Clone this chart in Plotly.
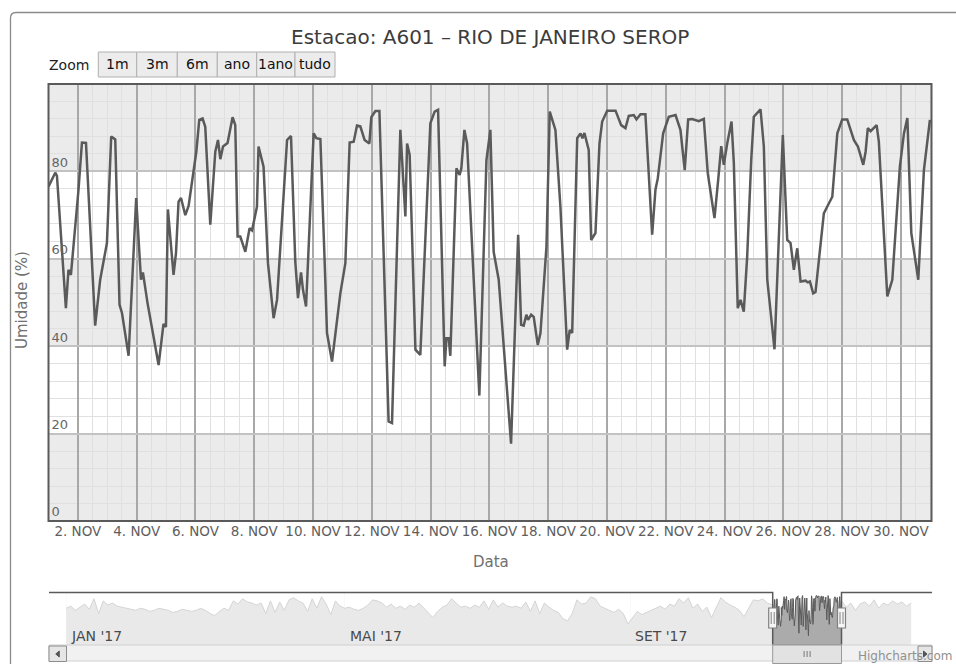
import pandas as pd
import plotly.graph_objects as go

# ---------------- data ----------------
TITLE = "Estacao: A601 – RIO DE JANEIRO SEROP"
Y_TITLE = "Umidade (%)"
X_TITLE = "Data"

# main series: hours since 2017-11-01 00:00 and relative humidity (%)
hours = [0, 5.5, 6.9, 14.2, 16.3, 18.3, 24.5, 27.3, 30.6, 38.1, 42.2, 47.7, 51.2, 54.5, 58.0, 60.0,
         65.4, 71.6, 75.5, 77.1, 80.9, 89.9, 93.9, 95.9, 97.5, 102.1, 104.1, 106.2, 108.2, 111.7, 114.4,
         118.5, 120.7, 123.1, 125.8, 128.0, 132.1, 136.2, 138.4, 140.3, 142.5, 146.2, 150.3, 152.5, 154.4,
         156.6, 160.7, 164.2, 166.2, 170.2, 171.5, 175.6, 179.2, 183.8, 186.6, 194.8, 198.0, 201.5, 203.7,
         206.2, 207.8, 210.3, 213.8, 216.5, 218.7, 222.0, 226.0, 227.4, 231.5, 238.3, 242.4, 245.9, 249.2,
         251.9, 254.6, 258.1, 262.0, 263.6, 266.9, 270.2, 277.7, 280.5, 287.3, 291.4, 292.8, 294.9, 299.6,
         303.6, 311.8, 315.3, 318.1, 323.5, 324.9, 326.8, 328.1, 333.1, 335.7, 337.1, 339.6, 341.8, 351.8,
         357.6, 360.8, 363.5, 367.6, 377.7, 383.5, 385.9, 388.0, 390.2, 391.6, 394.1, 396.2, 399.5, 401.7,
         406.6, 409.3, 413.9, 418.0, 423.5, 425.6, 427.6, 431.7, 434.4, 436.0, 437.6, 441.1, 443.1, 446.6,
         449.9, 452.1, 456.2, 463.0, 467.6, 471.1, 473.8, 477.9, 480.1, 483.4, 487.4, 492.9, 495.6, 497.5,
         501.9, 506.5, 512.0, 516.0, 519.5, 522.3, 525.6, 531.0, 535.1, 538.3, 543.8, 546.8, 549.3, 551.4,
         554.2, 557.7, 559.6, 562.8, 565.1, 567.7, 570.5, 573.8, 575.9, 581.4, 584.1, 586.9, 592.8, 599.6,
         603.2, 605.9, 608.6, 611.4, 614.1, 618.2, 620.0, 621.7, 624.4, 626.3, 633.1, 635.8, 640.0, 644.1,
         648.1, 652.2, 657.6, 660.9, 663.1, 665.3, 667.2, 669.0, 671.3, 676.2, 678.0, 684.9, 689.0, 695.2,
         698.5, 701.3, 704.5, 710.2, 714.8, 719.7]
umid = [76.5, 79.7, 79.0, 48.7, 57.5, 56.3, 75.8, 86.6, 86.5, 44.7, 55.2, 63.6, 88.0, 87.3, 49.5, 47.6,
        37.8, 73.9, 55.2, 56.9, 49.8, 35.7, 45.1, 44.4, 71.3, 56.3, 61.3, 73.1, 73.9, 70.0, 72.1,
        79.9, 84.5, 91.8, 92.1, 90.2, 67.8, 84.5, 87.2, 82.8, 85.7, 86.5, 92.4, 90.6, 65.1,
        65.1, 61.6, 67.0, 66.5, 71.9, 85.7, 81.1, 59.0, 46.4, 50.6, 87.2, 88.1, 59.4, 51.0,
        56.9, 52.9, 49.1, 71.9, 88.7, 87.6, 87.4, 55.2, 43.0, 36.5, 52.1, 59.0, 86.6, 86.8,
        90.5, 90.3, 87.2, 86.4, 92.4, 93.8, 93.8, 22.8, 22.4, 89.5, 69.7, 86.4, 83.8, 39.2,
        38.0, 91.0, 93.7, 94.1, 35.4, 41.8, 41.8, 37.8, 80.7, 79.2, 80.7, 89.5, 86.4, 28.7,
        82.6, 89.5, 61.6, 55.2, 17.7, 65.5, 44.9, 44.7, 47.2, 46.0, 47.2, 46.7, 40.3, 43.0,
        62.8, 93.7, 89.5, 71.9, 39.2, 43.7, 43.0, 87.6, 88.7, 87.6, 88.8, 84.9, 64.3, 65.9,
        86.4, 91.4, 93.9, 93.9, 90.6, 89.9, 92.7, 92.9, 91.9, 93.1, 93.1, 65.5, 75.8, 78.4,
        88.7, 92.5, 92.9, 89.5, 80.3, 91.9, 92.0, 91.5, 92.0, 79.6, 69.3, 78.0, 85.8, 81.5,
        86.4, 91.4, 81.9, 48.7, 50.6, 47.9, 60.5, 82.6, 92.5, 94.2, 85.7, 55.2, 39.3, 88.3,
        64.3, 63.6, 57.5, 62.4, 54.8, 55.0, 54.6, 54.8, 52.1, 52.4, 70.4, 71.9, 74.2, 88.7,
        91.9, 91.9, 87.2, 85.7, 83.8, 81.5, 84.5, 89.9, 89.2, 90.6, 86.8, 51.4, 55.2, 81.1,
        88.7, 92.2, 65.9, 55.2, 80.3, 91.8]

x_tick_dates = ["2017-11-%02d" % d for d in range(2, 31, 2)]
x_tick_text = ["%d. NOV" % d for d in range(2, 31, 2)]
y_tick_vals = [0, 20, 40, 60, 80]
y_tick_text = ["0", "20", "40", "60", "80"]
bands = [(0, 20), (40, 60), (80, 100)]
zoom_buttons = ["1m", "3m", "6m", "ano", "1ano", "tudo"]

# navigator (whole year, read every 2 days)
nav_jan_oct = [70, 74, 66, 72, 78, 68,
               88, 60, 84, 76, 80,
               74, 72, 70, 68, 66,
               70, 68, 64, 66, 70, 68, 66, 62, 64, 68, 66, 64, 66, 70, 66,
               60, 56, 64, 70, 66,
               84, 78, 88, 82, 80,
               76, 80, 60, 84, 62, 82, 66, 86,
               90, 84, 80, 64, 88, 70, 92, 78, 58,
               84, 74, 70, 72, 68, 66,
               70, 76, 86, 84, 80,
               72, 78, 70, 74, 68, 76, 72, 80, 70,
               60, 52, 64, 72, 76,
               88, 80, 72, 74, 70, 76, 72,
               84, 68, 86, 72, 80, 74, 72,
               74, 70, 82, 64, 84, 60, 80, 72, 66,
               62, 50, 46, 60, 86,
               78, 80, 92, 88, 74, 70,
               66, 62, 68, 60,
               40, 52,
               64, 58, 62, 66,
               70, 74, 68, 78, 74,
               88, 80, 90, 70,
               78, 64, 72, 52, 70,
               90, 82, 76, 72, 66,
               54, 70, 86, 84, 88, 80]
nav_dec = [84, 72, 80, 66, 78, 82, 74, 86, 70, 80, 76, 84, 78, 82, 74, 80]
nav_tick_dates = ["2017-01-01", "2017-05-01", "2017-09-01"]
nav_tick_text = ["JAN '17", "MAI '17", "SET '17"]

# ---------------- build ----------------
W, H = 956, 664
def X(p):
    return p / W
def Y(p):
    return 1 - p / H

start = pd.Timestamp("2017-11-01 00:00")
main_dates = [start + pd.Timedelta(hours=h) for h in hours]
nav_dates = (list(pd.date_range("2017-01-01", periods=len(nav_jan_oct), freq="2D"))
             + main_dates
             + list(pd.date_range("2017-12-01", periods=len(nav_dec), freq="2D")))
nav_vals = nav_jan_oct + umid + nav_dec

FONT = "DejaVu Sans"
fig = go.Figure()
fig.add_trace(go.Scatter(x=main_dates, y=umid, mode="lines",
                         line=dict(color="#5a5a5a", width=2.5),
                         xaxis="x", yaxis="y", hoverinfo="skip"))
fig.add_trace(go.Scatter(x=nav_dates, y=nav_vals, mode="lines", fill="tozeroy",
                         fillcolor="#ababab", line=dict(color="#5a5a5a", width=1.0),
                         xaxis="x2", yaxis="y2", hoverinfo="skip"))

PL, PR, PT, PB = 48.5, 931.5, 84, 521
NT, NB = 592.5, 645
SEL0, SEL1 = 772.7, 841.5

fig.update_layout(
    width=W, height=H, margin=dict(l=0, r=0, t=0, b=0), autosize=False,
    paper_bgcolor="white", plot_bgcolor="rgba(0,0,0,0)", showlegend=False,
    font=dict(family=FONT),
    xaxis=dict(domain=[X(PL), X(PR)], anchor="y", type="date",
               range=["2017-11-01 00:00", "2017-12-01 01:00"],
               tickmode="array", tickvals=x_tick_dates, ticktext=x_tick_text,
               tickangle=0, ticks="", showgrid=True, gridcolor="#a8a8a8", gridwidth=2,
               minor=dict(tickmode="linear", tick0="2017-11-01", dtick=43200000,
                          showgrid=True, gridcolor="#e0e0e0", gridwidth=1),
               zeroline=False, showline=False,
               tickfont=dict(size=13.5, color="#5e5e5e", family=FONT)),
    yaxis=dict(domain=[Y(PB), Y(PT)], anchor="x", range=[0, 100],
               tickmode="array", tickvals=y_tick_vals, ticktext=y_tick_text,
               ticks="", ticklabelposition="inside top",
               showgrid=True, gridcolor="#c2c2c2", gridwidth=1.5,
               minor=dict(tickmode="linear", tick0=0, dtick=4,
                          showgrid=True, gridcolor="#e0e0e0", gridwidth=1),
               zeroline=False, showline=False,
               tickfont=dict(size=13, color="#666666", family=FONT)),
    xaxis2=dict(domain=[X(49), X(932)], anchor="y2", type="date",
                range=["2016-12-24 15:00", "2018-01-08 23:00"],
                tickmode="array", tickvals=nav_tick_dates, showticklabels=False,
                ticks="", showgrid=True, gridcolor="#e6e6e6", zeroline=False),
    yaxis2=dict(domain=[Y(NB), Y(NT)], anchor="x2", range=[0, 100], visible=False),
)

shapes = []
for b0, b1 in bands:
    shapes.append(dict(type="rect", xref="x domain", yref="y", x0=0, x1=1, y0=b0, y1=b1,
                       fillcolor="#ebebeb", line=dict(width=0), layer="below"))
shapes.append(dict(type="rect", xref="paper", yref="paper", x0=X(PL), x1=X(PR), y0=Y(PB), y1=Y(PT),
                   line=dict(color="#5a5a5a", width=2), fillcolor="rgba(0,0,0,0)", layer="above"))
shapes.append(dict(type="path", xref="paper", yref="paper",
                   path=f"M {X(10.5)},{Y(670)} L {X(10.5)},{Y(18)} Q {X(10.5)},{Y(12.5)} {X(16)},{Y(12.5)} L {X(960)},{Y(12.5)}",
                   line=dict(color="#8a8a8a", width=1.3)))
edges = [98.3, 136.7, 177.3, 217.3, 256.7, 295.0, 335.0]
for i, lab in enumerate(zoom_buttons):
    shapes.append(dict(type="rect", xref="paper", yref="paper", x0=X(edges[i]), x1=X(edges[i + 1]),
                       y0=Y(77), y1=Y(52), fillcolor="#ececec", line=dict(color="#b0b0b0", width=1)))
for a, b in [(49, SEL0), (SEL1, 932)]:
    shapes.append(dict(type="rect", xref="paper", yref="paper", x0=X(a), x1=X(b), y0=Y(NB), y1=Y(NT),
                       fillcolor="rgba(255,255,255,0.74)", line=dict(width=0), layer="above"))
shapes.append(dict(type="path", xref="paper", yref="paper",
                   path=(f"M {X(49)},{Y(NT)} L {X(SEL0)},{Y(NT)} L {X(SEL0)},{Y(NB)} "
                         f"L {X(SEL1)},{Y(NB)} L {X(SEL1)},{Y(NT)} L {X(932)},{Y(NT)}"),
                   line=dict(color="#5a5a5a", width=1.5)))
shapes.append(dict(type="rect", xref="paper", yref="paper", x0=X(49), x1=X(932), y0=Y(661), y1=Y(645),
                   fillcolor="#f1f1f1", line=dict(color="#d0d0d0", width=1)))
for a, b, tri in [(49, 66.5, "L"), (918, 932, "R")]:
    shapes.append(dict(type="rect", xref="paper", yref="paper", x0=X(a), x1=X(b), y0=Y(661.5), y1=Y(646),
                       fillcolor="#e6e6e6", line=dict(color="#8c8c8c", width=1)))
    c = (a + b) / 2
    if tri == "L":
        p = f"M {X(c+1.5)},{Y(651)} L {X(c-2)},{Y(654)} L {X(c+1.5)},{Y(657)} Z"
    else:
        p = f"M {X(c-1.5)},{Y(651)} L {X(c+2)},{Y(654)} L {X(c-1.5)},{Y(657)} Z"
    shapes.append(dict(type="path", xref="paper", yref="paper", path=p,
                       fillcolor="#555555", line=dict(color="#555555", width=1)))
shapes.append(dict(type="rect", xref="paper", yref="paper", x0=X(SEL0), x1=X(SEL1), y0=Y(663.5), y1=Y(645),
                   fillcolor="#e2e2e2", line=dict(color="#9a9a9a", width=1)))
cx = (SEL0 + SEL1) / 2
for dx in (-3, 0, 3):
    shapes.append(dict(type="line", xref="paper", yref="paper", x0=X(cx + dx), x1=X(cx + dx),
                       y0=Y(651), y1=Y(657), line=dict(color="#777777", width=1)))
for hx in (SEL0, SEL1):
    shapes.append(dict(type="rect", xref="paper", yref="paper", x0=X(hx - 4), x1=X(hx + 4),
                       y0=Y(628), y1=Y(608), fillcolor="#f6f6f6", line=dict(color="#808080", width=1.2)))
    for dx in (-1.5, 1.5):
        shapes.append(dict(type="line", xref="paper", yref="paper", x0=X(hx + dx), x1=X(hx + dx),
                           y0=Y(624), y1=Y(612), line=dict(color="#808080", width=1)))
fig.update_layout(shapes=shapes)

ann = []
ann.append(dict(text=TITLE, xref="paper", yref="paper", x=X(490), y=Y(37), xanchor="center",
                yanchor="middle", showarrow=False, font=dict(size=20, color="#3c3c3c", family=FONT)))
ann.append(dict(text="Zoom", xref="paper", yref="paper", x=X(47), y=Y(65), xanchor="left",
                yanchor="middle", showarrow=False, font=dict(size=14, color="#222222", family=FONT)))
for i, lab in enumerate(zoom_buttons):
    ann.append(dict(text=lab, xref="paper", yref="paper", x=X((edges[i] + edges[i + 1]) / 2), y=Y(64.5),
                    xanchor="center", yanchor="middle", showarrow=False,
                    font=dict(size=14, color="#111111", family=FONT)))
ann.append(dict(text=Y_TITLE, xref="paper", yref="paper", x=X(22), y=Y(300), textangle=-90,
                xanchor="center", yanchor="middle", showarrow=False,
                font=dict(size=15, color="#707070", family=FONT)))
ann.append(dict(text=X_TITLE, xref="paper", yref="paper", x=X(491), y=Y(562), xanchor="center",
                yanchor="middle", showarrow=False, font=dict(size=15, color="#707070", family=FONT)))
for d, t in zip(nav_tick_dates, nav_tick_text):
    ann.append(dict(text=t, xref="x2", yref="paper", x=d, y=Y(636), xanchor="left", xshift=3,
                    yanchor="middle", showarrow=False, font=dict(size=14, color="#4a4a4a", family=FONT)))
ann.append(dict(text="Highcharts.com", xref="paper", yref="paper", x=X(856), y=Y(656), xanchor="left",
                yanchor="middle", showarrow=False, font=dict(size=12, color="#909090", family=FONT)))
fig.update_layout(annotations=ann)

fig.write_html("out.html", config={"responsive": False, "displayModeBar": False},
               post_script="document.body.style.margin='0';document.body.style.overflow='hidden';")
